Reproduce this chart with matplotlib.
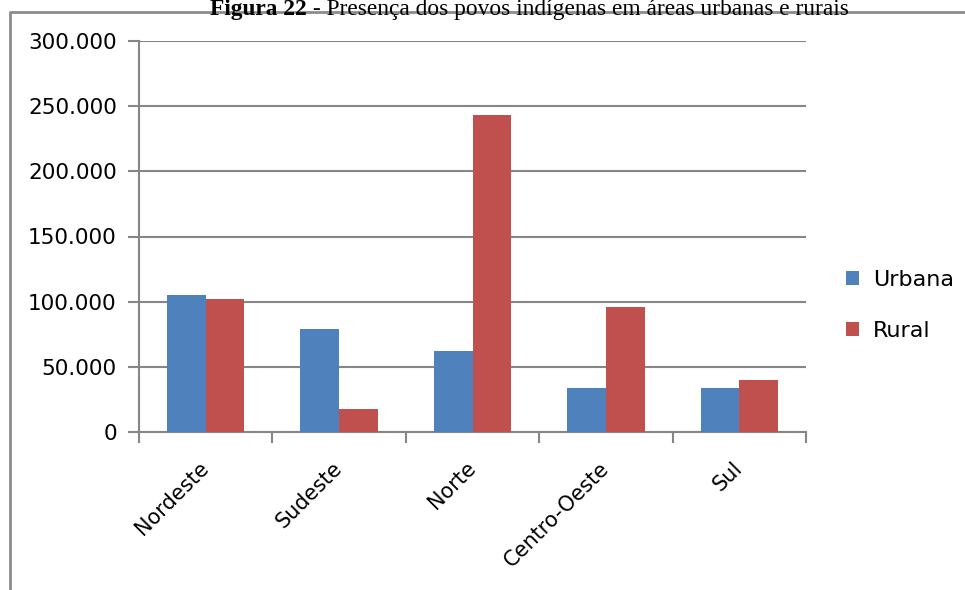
import matplotlib
matplotlib.use('agg')
import matplotlib.pyplot as plt
import numpy as np

# valores
regioes = ['Nordeste', 'Sudeste', 'Norte', 'Centro-Oeste', 'Sul']
urbana = [105200, 78800, 61800, 33600, 33600]
rural = [102000, 18000, 243500, 96200, 40000]
yticks = [0, 50000, 100000, 150000, 200000, 250000, 300000]
ylabels = ['0', '50.000', '100.000', '150.000', '200.000', '250.000', '300.000']

azul = '#4F81BD'
vermelho = '#C0504D'
cinza = '#868686'

fig = plt.figure(figsize=(9.65, 5.9), dpi=100)
ax = fig.add_axes([139/965, 1-432/590, (806-139)/965, (432-41)/590])

x = np.arange(len(regioes))
w = 0.29
ax.bar(x - w/2, urbana, w, color=azul, label='Urbana', zorder=3)
ax.bar(x + w/2, rural, w, color=vermelho, label='Rural', zorder=3)

ax.set_xlim(-0.5, len(regioes) - 0.5)
ax.set_ylim(0, 300000)
ax.set_yticks(yticks)
ax.set_yticklabels(ylabels)
ax.yaxis.grid(True, color=cinza, linewidth=1.5, zorder=0)

ax.set_xticks(x)
ax.set_xticklabels(regioes, rotation=45, ha='right', va='center', rotation_mode='anchor')
ax.set_xticks(np.arange(len(regioes) + 1) - 0.5, minor=True)
ax.tick_params(axis='x', which='major', length=0, pad=24, labelsize=15)
ax.tick_params(axis='x', which='minor', length=8, width=1.5, color=cinza, direction='out')
ax.tick_params(axis='y', length=8, width=1.5, color=cinza, labelsize=15.5, pad=8)

for s in ['top', 'right']:
    ax.spines[s].set_visible(False)
for s in ['left', 'bottom']:
    ax.spines[s].set_color(cinza)
    ax.spines[s].set_linewidth(1.5)

leg = fig.legend(loc='upper left', bbox_to_anchor=(846/965, 1-270/590), frameon=False,
                 fontsize=16, handlelength=0.6, handleheight=0.6, labelspacing=1.4,
                 handletextpad=0.6, borderaxespad=0, borderpad=0)

# moldura do grafico (cortada)
frame = plt.Line2D([10/965, 10/965, 1.0], [0.0, 1-12/590, 1-12/590],
                   transform=fig.transFigure, color='#8c8c8c', linewidth=2)
fig.add_artist(frame)

t1 = fig.text(210/965, 1-15/590, 'Figura 22', fontsize=16.8, fontweight='bold',
              family='Liberation Serif', va='baseline', ha='left')
fig.canvas.draw()
bb = t1.get_window_extent()
fig.text(bb.x1/965, 1-15/590, ' - Presença dos povos indígenas em áreas urbanas e rurais',
         fontsize=16.8, family='Liberation Serif', va='baseline', ha='left')

fig.savefig('out.png', dpi=100)
